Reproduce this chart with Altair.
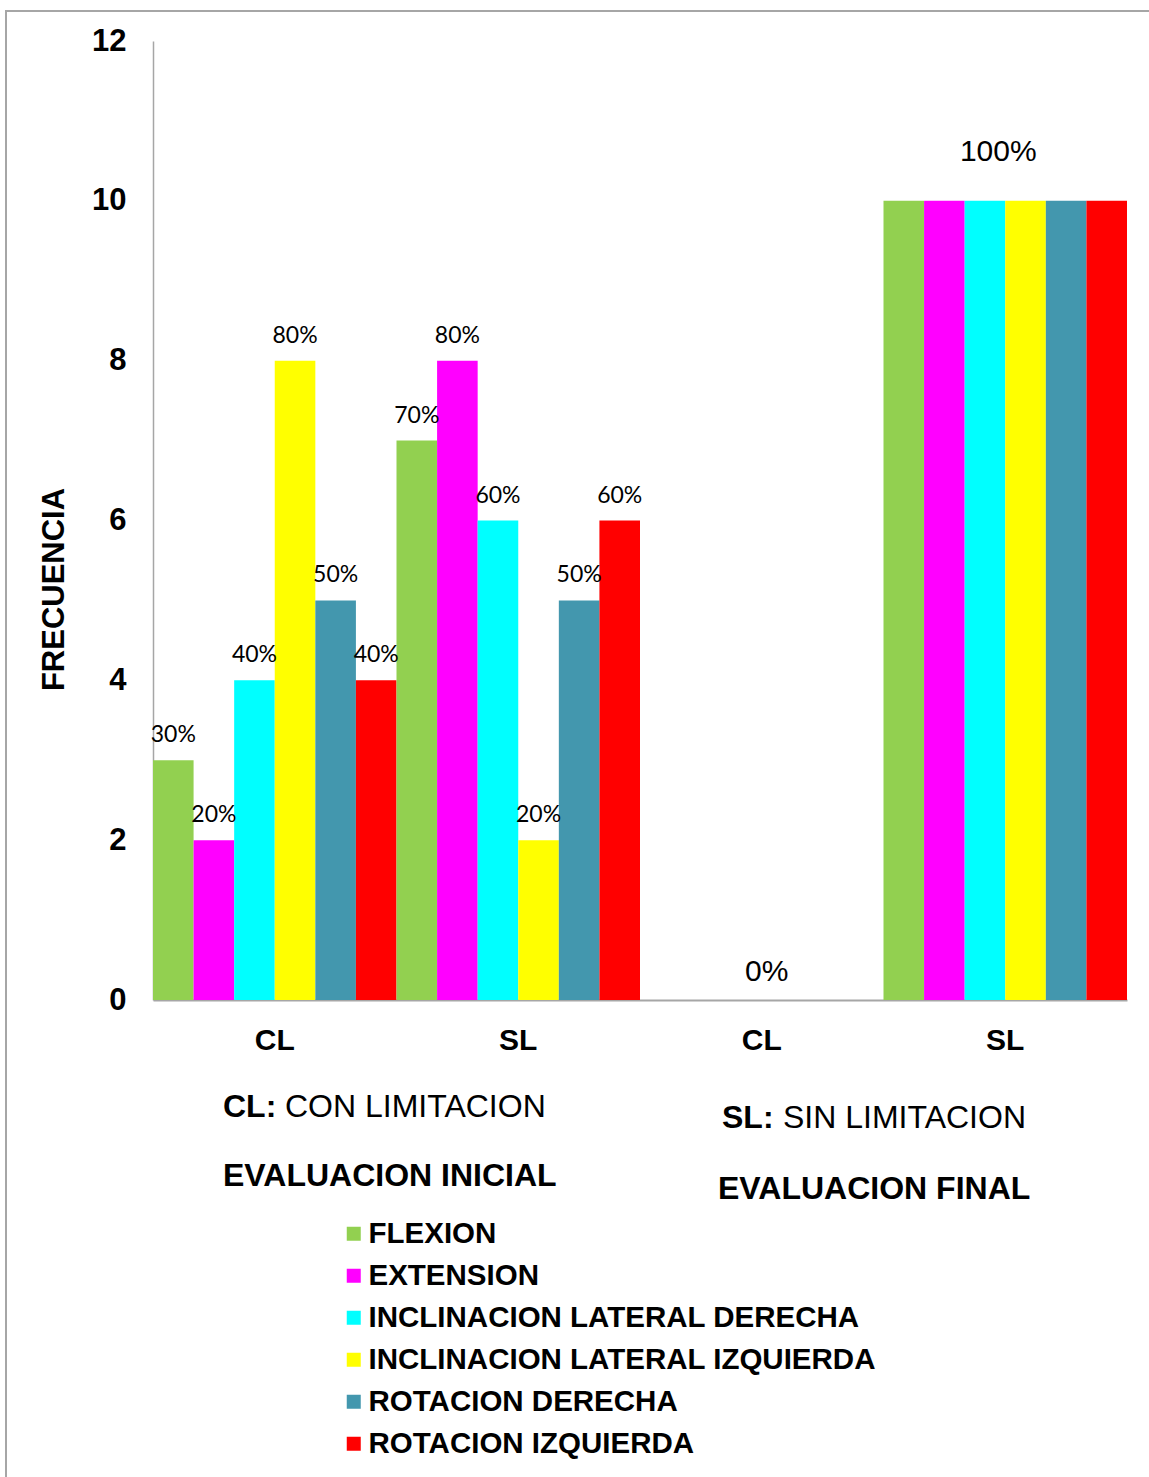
import altair as alt
import pandas as pd

grupos = ["CL_INI", "SL_INI", "CL_FIN", "SL_FIN"]
series = [
    "FLEXION",
    "EXTENSION",
    "INCLINACION LATERAL DERECHA",
    "INCLINACION LATERAL IZQUIERDA",
    "ROTACION DERECHA",
    "ROTACION IZQUIERDA",
]
colores = ["#92D050", "#FF00FF", "#00FFFF", "#FFFF00", "#4397AE", "#FF0000"]

cl_inicial = [3, 2, 4, 8, 5, 4]
sl_inicial = [7, 8, 6, 2, 5, 6]
cl_final = [0, 0, 0, 0, 0, 0]
sl_final = [10, 10, 10, 10, 10, 10]

etiquetas_cl_inicial = ["30%", "20%", "40%", "80%", "50%", "40%"]
etiquetas_sl_inicial = ["70%", "80%", "60%", "20%", "50%", "60%"]
etiquetas_finales = {"CL_FIN": "0%", "SL_FIN": "100%"}

rows = []
for g, vals in zip(grupos, [cl_inicial, sl_inicial, cl_final, sl_final]):
    for s, v in zip(series, vals):
        rows.append({"grupo": g, "serie": s, "valor": v})
df = pd.DataFrame(rows)

lab_rows = []
for g, vals, labs in [("CL_INI", cl_inicial, etiquetas_cl_inicial), ("SL_INI", sl_inicial, etiquetas_sl_inicial)]:
    for s, v, t in zip(series, vals, labs):
        lab_rows.append({"grupo": g, "serie": s, "valor": v, "texto": t})
df_lab = pd.DataFrame(lab_rows)

df_fin = pd.DataFrame({
    "grupo": ["CL_FIN", "SL_FIN"],
    "valor": [max(cl_final), max(sl_final)],
    "texto": [etiquetas_finales["CL_FIN"], etiquetas_finales["SL_FIN"]],
})

ARIAL = "Liberation Sans"
GRAY = "#A6A6A6"

x_enc = alt.X(
    "grupo:N",
    sort=grupos,
    scale=alt.Scale(domain=grupos, paddingInner=0, paddingOuter=0),
    axis=alt.Axis(
        title=None,
        labelExpr="substring(datum.value, 0, 2)",
        labelAngle=0,
        labelFont=ARIAL,
        labelFontSize=30,
        labelFontWeight="bold",
        labelColor="#000000",
        labelPadding=25,
        ticks=False,
        grid=False,
        domainColor=GRAY,
        domainWidth=2,
    ),
)
y_enc = alt.Y(
    "valor:Q",
    scale=alt.Scale(domain=[0, 12], nice=False),
    axis=alt.Axis(
        title="FRECUENCIA",
        values=[0, 2, 4, 6, 8, 10, 12],
        format="d",
        labelFont=ARIAL,
        labelFontSize=31,
        labelFontWeight="bold",
        labelColor="#000000",
        labelPadding=27,
        ticks=False,
        grid=False,
        domainColor=GRAY,
        domainWidth=1.5,
        titleFont=ARIAL,
        titleFontSize=31,
        titleFontWeight="bold",
        titleColor="#000000",
        titleAngle=270,
        titleX=-99,
        titleY=548,
        titleAlign="center",
        titleBaseline="middle",
    ),
)
xoff = alt.XOffset("serie:N", sort=series, scale=alt.Scale(domain=series, paddingInner=0, paddingOuter=0))

bars = alt.Chart(df).mark_bar().encode(
    x=x_enc,
    xOffset=xoff,
    y=y_enc,
    color=alt.Color(
        "serie:N",
        sort=series,
        scale=alt.Scale(domain=series, range=colores),
        legend=alt.Legend(
            title=None,
            orient="none",
            legendX=186,
            legendY=1178,
            direction="vertical",
            symbolType="square",
            symbolSize=196,
            symbolStrokeWidth=0,
            labelFont=ARIAL,
            labelFontSize=29.5,
            labelFontWeight="bold",
            labelColor="#000000",
            labelOffset=0,
            labelLimit=0,
            rowPadding=11,
            padding=0,
        ),
    ),
)

labels = alt.Chart(df_lab).mark_text(
    font="Lato", fontSize=23, color="#000000", baseline="middle", dy=-25
).encode(x=alt.X("grupo:N", sort=grupos), xOffset=xoff, y="valor:Q", text="texto:N")

lab0 = alt.Chart(df_fin).transform_filter("datum.grupo == 'CL_FIN'").mark_text(
    font=ARIAL, fontSize=30, color="#000000", baseline="middle", dy=-28, dx=5
).encode(x=alt.X("grupo:N", sort=grupos), y="valor:Q", text="texto:N")

lab100 = alt.Chart(df_fin).transform_filter("datum.grupo == 'SL_FIN'").mark_text(
    font=ARIAL, fontSize=30, color="#000000", baseline="middle", dy=-49, dx=-7
).encode(x=alt.X("grupo:N", sort=grupos), y="valor:Q", text="texto:N")


def note(txt, x, y, bold):
    return alt.Chart(pd.DataFrame({"t": [txt]})).mark_text(
        font=ARIAL, fontSize=32, fontWeight="bold" if bold else "normal",
        color="#000000", align="left", baseline="alphabetic",
    ).encode(text="t:N", x=alt.value(x), y=alt.value(y))


ox, oy = 153, 41
notes = [
    note("CL:", 223 - ox, 1117 - oy, True),
    note("CON LIMITACION", 285 - ox, 1117 - oy, False),
    note("EVALUACION INICIAL", 223 - ox, 1186 - oy, True),
    note("SL:", 722 - ox, 1128 - oy, True),
    note("SIN LIMITACION", 783 - ox, 1128 - oy, False),
    note("EVALUACION FINAL", 718 - ox, 1199 - oy, True),
]

frame = alt.Chart(pd.DataFrame({"a": [0]})).mark_rect(
    fillOpacity=0, stroke=GRAY, strokeWidth=2
).encode(
    x=alt.value(6 - ox), x2=alt.value(1170 - ox), y=alt.value(11 - oy), y2=alt.value(1500 - oy)
)

chart = alt.layer(frame, bars, labels, lab0, lab100, *notes).properties(
    width=974,
    height=959,
    autosize=alt.AutoSizeParams(type="none"),
    padding={"left": 153, "top": 41, "right": 22, "bottom": 477},
    background="#FFFFFF",
).configure_view(strokeWidth=0)

chart.save("out.html", embed_options={"renderer": "svg", "actions": False})
